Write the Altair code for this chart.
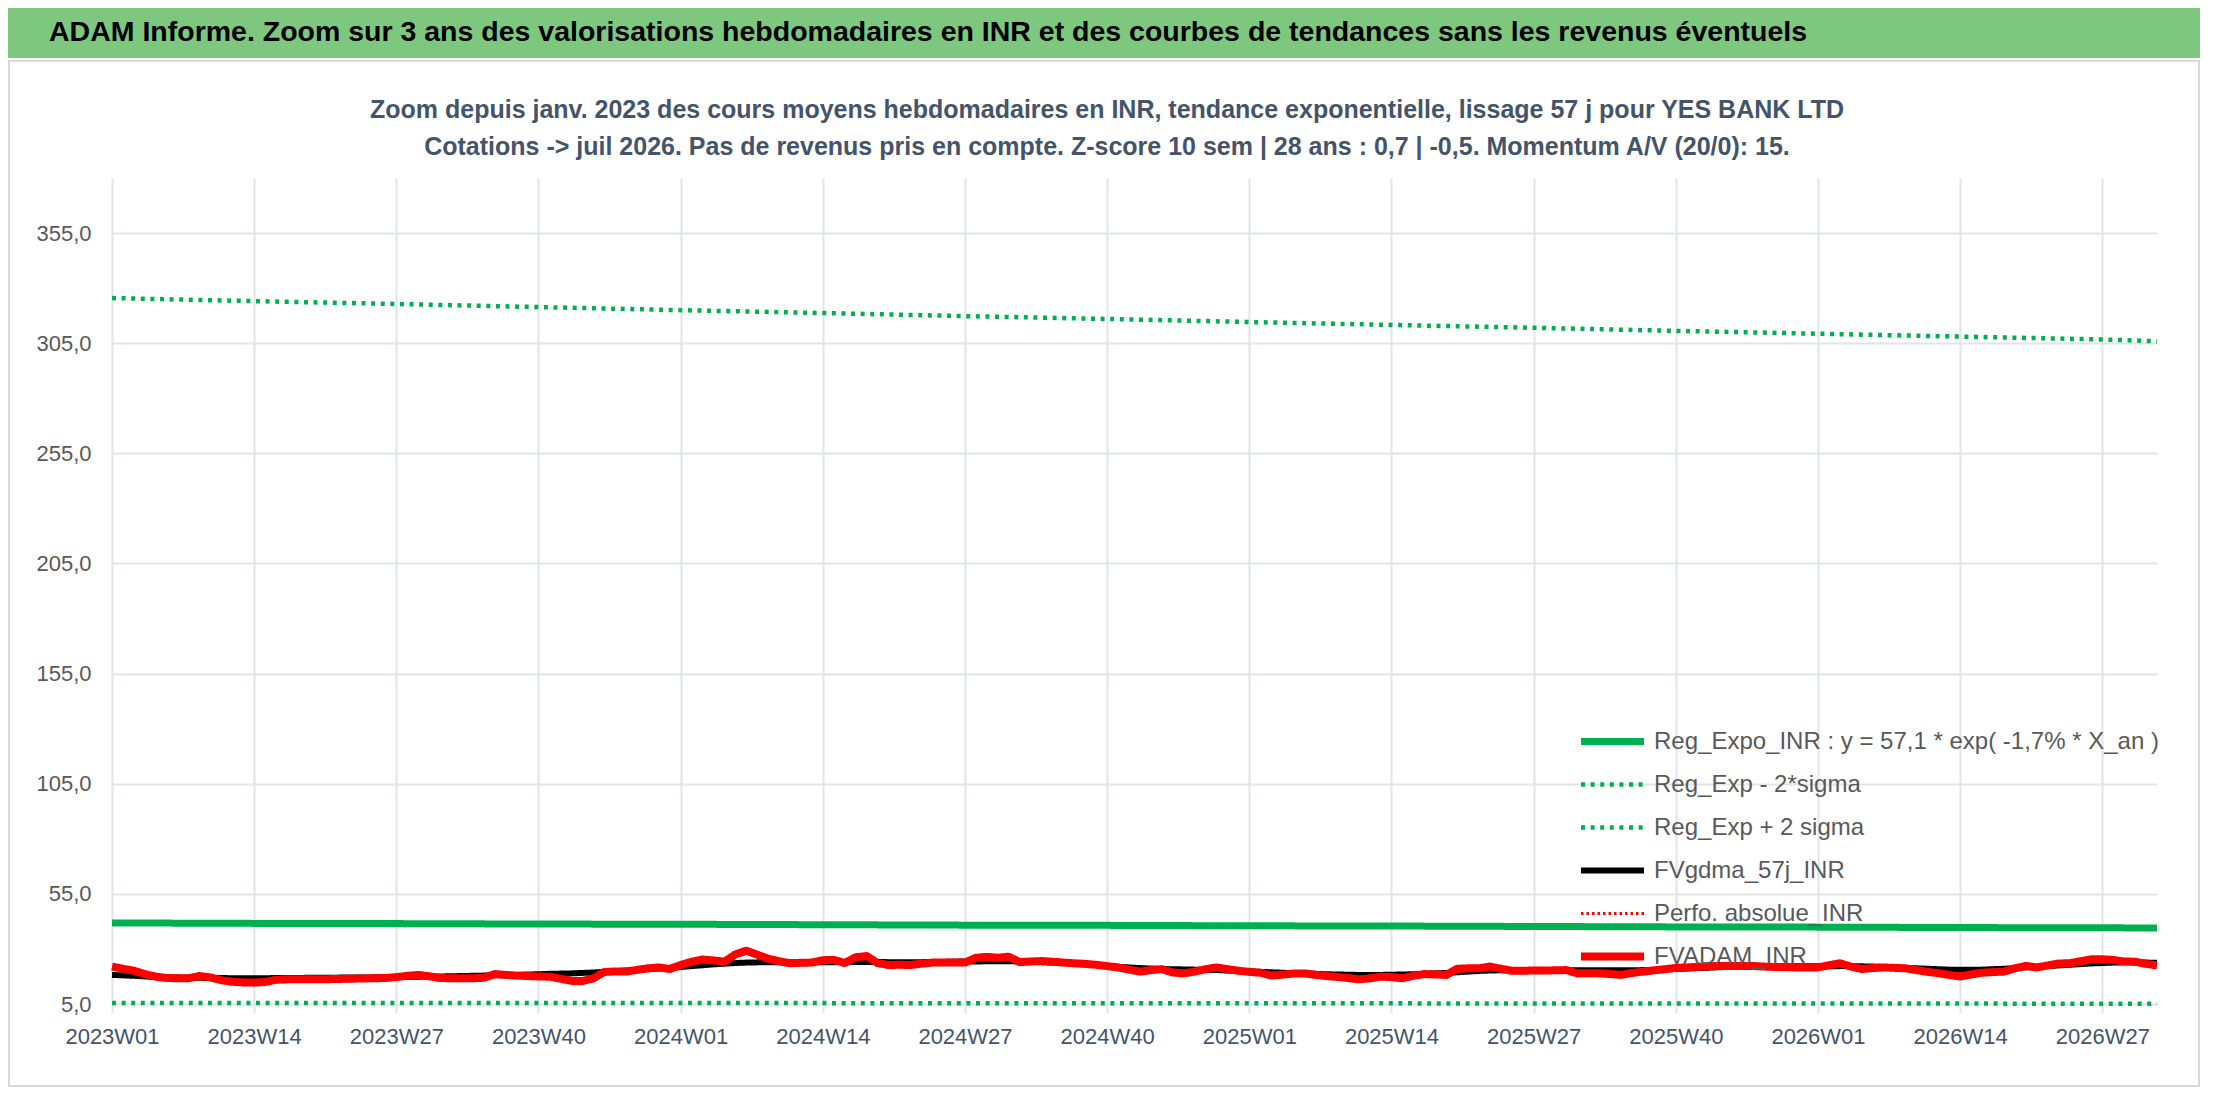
import altair as alt
import pandas as pd

FONT = "Liberation Sans, Arial, sans-serif"

TITLE = "ADAM Informe. Zoom sur 3 ans des valorisations hebdomadaires en INR et des courbes de tendances sans les revenus éventuels"
SUB1 = "Zoom depuis janv. 2023 des cours moyens hebdomadaires en INR, tendance exponentielle, lissage 57 j pour YES BANK LTD"
SUB2 = "Cotations -> juil 2026. Pas de revenus pris en compte. Z-score 10 sem | 28 ans : 0,7 | -0,5. Momentum A/V (20/0): 15."

# categories
years = [2023, 2024, 2025, 2026]
weeks_in_year = [52, 52, 52, 32]
weeks = [f"{y}W{w:02d}" for y, n in zip(years, weeks_in_year) for w in range(1, n + 1)]

x_tick_labels = ["2023W01", "2023W14", "2023W27", "2023W40", "2024W01", "2024W14", "2024W27",
                 "2024W40", "2025W01", "2025W14", "2025W27", "2025W40", "2026W01", "2026W14", "2026W27"]
y_tick_values = [5, 55, 105, 155, 205, 255, 305, 355]

# trend series (read at the tick weeks and the last week)
trend_weeks = x_tick_labels + ["2026W32"]
reg_expo = [41.8, 41.6, 41.5, 41.3, 41.2, 41.0, 40.8, 40.7, 40.5, 40.4, 40.2, 40.0, 39.9, 39.7, 39.6, 39.5]
reg_minus = [5.5, 5.5, 5.4, 5.4, 5.4, 5.4, 5.3, 5.3, 5.3, 5.3, 5.2, 5.2, 5.2, 5.2, 5.1, 5.1]
reg_plus = [325.5, 324.1, 322.8, 321.4, 320.0, 318.7, 317.3, 316.0, 314.6, 313.3, 312.0, 310.6,
            309.3, 308.0, 306.7, 305.9]

# weekly series
fv_adam = [
    22.0, 21.0, 20.1, 18.6, 17.4, 16.8, 16.7, 16.7, 17.7, 17.1,
    15.8, 15.1, 14.8, 14.7, 15.0, 16.0, 16.2, 16.2, 16.2, 16.2,
    16.3, 16.4, 16.5, 16.6, 16.7, 16.8, 17.2, 17.8, 18.2, 17.6,
    16.8, 16.7, 16.7, 16.7, 16.9, 18.6, 18.2, 17.9, 17.7, 17.5,
    17.4, 16.5, 15.5, 15.4, 16.6, 19.5, 19.8, 19.7, 20.5, 21.2,
    21.6, 20.9, 22.7, 24.2, 25.2, 24.8, 24.2, 27.5, 29.2, 27.4,
    25.6, 24.4, 23.5, 23.7, 23.8, 24.9, 25.0, 23.6, 26.2, 26.8,
    23.6, 22.7, 22.8, 22.7, 23.3, 23.8, 23.8, 23.9, 23.8, 26.0,
    26.4, 26.0, 26.5, 24.0, 24.3, 24.5, 24.2, 23.8, 23.5, 23.2,
    22.8, 22.2, 21.6, 20.6, 19.7, 20.4, 20.8, 19.3, 18.9, 19.7,
    20.8, 21.6, 20.8, 20.1, 19.6, 19.2, 17.9, 18.3, 18.8, 18.9,
    18.3, 17.7, 17.3, 16.8, 16.2, 16.6, 17.4, 17.2, 16.7, 17.8,
    18.6, 18.4, 18.2, 21.0, 21.2, 21.2, 22.0, 21.0, 20.1, 20.1,
    20.2, 20.2, 20.3, 20.4, 18.9, 19.0, 18.9, 18.6, 18.2, 19.1,
    19.7, 20.3, 20.8, 21.4, 21.6, 21.9, 22.1, 22.3, 22.3, 22.2,
    22.3, 22.0, 21.8, 21.7, 21.6, 21.6, 21.6, 22.6, 23.5, 22.0,
    20.9, 21.3, 21.6, 21.4, 21.2, 20.4, 19.6, 19.0, 18.2, 17.5,
    18.4, 19.2, 19.5, 19.7, 21.2, 22.3, 21.6, 22.5, 23.4, 23.5,
    24.4, 25.3, 25.3, 25.0, 24.3, 24.2, 23.2, 22.5,
]
fv_gdma = [
    18.2, 18.0, 17.8, 17.5, 17.3, 17.1, 17.0, 16.9, 16.9, 16.8,
    16.8, 16.7, 16.7, 16.7, 16.7, 16.8, 16.8, 16.8, 16.9, 16.9,
    16.9, 17.0, 17.0, 17.0, 17.1, 17.1, 17.2, 17.3, 17.4, 17.5,
    17.5, 17.6, 17.7, 17.8, 17.9, 18.0, 18.1, 18.2, 18.4, 18.5,
    18.7, 18.8, 18.9, 19.1, 19.3, 19.6, 19.9, 20.2, 20.5, 20.8,
    21.1, 21.4, 21.8, 22.2, 22.6, 23.0, 23.3, 23.6, 23.8, 23.9,
    24.0, 24.0, 24.0, 24.0, 24.0, 24.0, 24.0, 24.1, 24.1, 24.1,
    24.1, 24.0, 24.0, 24.0, 24.0, 24.1, 24.1, 24.2, 24.3, 24.3,
    24.4, 24.4, 24.4, 24.3, 24.2, 24.0, 23.8, 23.6, 23.3, 23.0,
    22.7, 22.3, 21.9, 21.6, 21.3, 21.1, 20.9, 20.8, 20.7, 20.6,
    20.5, 20.4, 20.2, 20.0, 19.8, 19.6, 19.4, 19.2, 19.0, 18.8,
    18.7, 18.5, 18.4, 18.3, 18.2, 18.2, 18.2, 18.3, 18.4, 18.5,
    18.7, 18.9, 19.1, 19.4, 19.7, 20.0, 20.2, 20.3, 20.3, 20.3,
    20.3, 20.3, 20.3, 20.3, 20.3, 20.3, 20.3, 20.3, 20.3, 20.3,
    20.4, 20.5, 20.7, 20.9, 21.1, 21.3, 21.5, 21.7, 21.9, 22.0,
    22.1, 22.1, 22.1, 22.1, 22.1, 22.1, 22.1, 22.1, 22.2, 22.2,
    22.1, 22.0, 21.8, 21.6, 21.4, 21.2, 21.0, 20.8, 20.6, 20.5,
    20.5, 20.6, 20.8, 21.0, 21.3, 21.6, 21.9, 22.2, 22.5, 22.8,
    23.1, 23.4, 23.6, 23.8, 23.9, 23.9, 23.8, 23.7,
]

S_REG = "Reg_Expo_INR : y = 57,1 * exp( -1,7% *  X_an )"
S_LOW = "Reg_Exp - 2*sigma"
S_UP = "Reg_Exp + 2 sigma"
S_GDMA = "FVgdma_57j_INR"
S_PERF = "Perfo. absolue_INR"
S_ADAM = "FVADAM_INR"
series_names = [S_REG, S_LOW, S_UP, S_GDMA, S_PERF, S_ADAM]
series_colors = ["#00B050", "#00B050", "#00B050", "#000000", "#FF0000", "#FF0000"]
series_dash = [[1, 0], [4, 5.6], [4, 5.6], [1, 0], [2.5, 3], [1, 0]]
series_width = [7, 4.5, 4.5, 6, 3, 8]


def frame(xs, ys, name):
    return pd.DataFrame({"week": xs, "value": ys, "series": name})


df_reg = frame(trend_weeks, reg_expo, S_REG)
df_low = frame(trend_weeks, reg_minus, S_LOW)
df_up = frame(trend_weeks, reg_plus, S_UP)
df_gdma = frame(weeks, fv_gdma, S_GDMA)
df_adam = frame(weeks, fv_adam, S_ADAM)

GRID = "#E1E4EA"
legend = alt.Legend(
    title=None, orient="none", legendX=1465, legendY=542, symbolType="stroke",
    symbolSize=3969, labelFont=FONT, labelFontSize=24, labelColor="#595959",
    labelLimit=0, labelOffset=6, rowPadding=0, clipHeight=43, padding=0,
)

x_enc = alt.X("week:O", scale=alt.Scale(type="point", domain=weeks, padding=0),
              axis=alt.Axis(values=x_tick_labels, labelAngle=0, title=None, grid=True,
                            gridColor=GRID, gridWidth=2, domain=False, ticks=True,
                            tickColor=GRID, tickWidth=2, tickSize=9, labelPadding=13,
                            labelFont=FONT, labelFontSize=22, labelColor="#44546A"))
y_enc = alt.Y("value:Q", scale=alt.Scale(domain=[5, 380], nice=False, zero=False),
              axis=alt.Axis(values=y_tick_values, title=None, grid=True, gridColor=GRID,
                            gridWidth=2, domain=False, ticks=False, labelPadding=21,
                            labelFont=FONT, labelFontSize=22, labelColor="#595959",
                            labelExpr="replace(format(datum.value, '.1f'), '.', ',')"))
c_enc = alt.Color("series:N", scale=alt.Scale(domain=series_names, range=series_colors), legend=legend)
d_enc = alt.StrokeDash("series:N", scale=alt.Scale(domain=series_names, range=series_dash), legend=legend)
w_enc = alt.StrokeWidth("series:N", scale=alt.Scale(type="ordinal", domain=series_names, range=series_width),
                        legend=legend)


def line(df):
    return alt.Chart(df).mark_line(strokeJoin="round").encode(
        x=x_enc, y=y_enc, color=c_enc, strokeDash=d_enc, strokeWidth=w_enc)


one = alt.Data(values=[{"k": 1}])
title_bar = alt.Chart(one).mark_rect(color="#7DC87E").encode(
    x=alt.value(-104), x2=alt.value(2088), y=alt.value(-170), y2=alt.value(-120))
border = alt.Chart(one).mark_rect(fillOpacity=0, stroke="#D9D9D9", strokeWidth=2).encode(
    x=alt.value(-103), x2=alt.value(2087), y=alt.value(-117), y2=alt.value(908))
title_text = alt.Chart(one).mark_text(
    align="left", baseline="middle", font=FONT, fontSize=28.5, fontWeight="bold", color="#000000"
).encode(x=alt.value(-63), y=alt.value(-146), text=alt.value(TITLE))
sub_text1 = alt.Chart(one).mark_text(
    align="center", baseline="middle", font=FONT, fontSize=25, fontWeight="bold", color="#44546A"
).encode(x=alt.value(995), y=alt.value(-68), text=alt.value(SUB1))
sub_text2 = alt.Chart(one).mark_text(
    align="center", baseline="middle", font=FONT, fontSize=25, fontWeight="bold", color="#44546A"
).encode(x=alt.value(995), y=alt.value(-31), text=alt.value(SUB2))

chart = alt.layer(
    title_bar, border, title_text, sub_text1, sub_text2,
    line(df_low), line(df_up), line(df_reg), line(df_gdma), line(df_adam),
).properties(
    width=2045, height=826,
    autosize=alt.AutoSizeParams(type="none"),
    padding={"left": 104, "top": 170, "right": 51, "bottom": 84},
    background="white",
).configure_view(stroke=None)

chart.save("out.html", embed_options={"renderer": "svg", "actions": False})
